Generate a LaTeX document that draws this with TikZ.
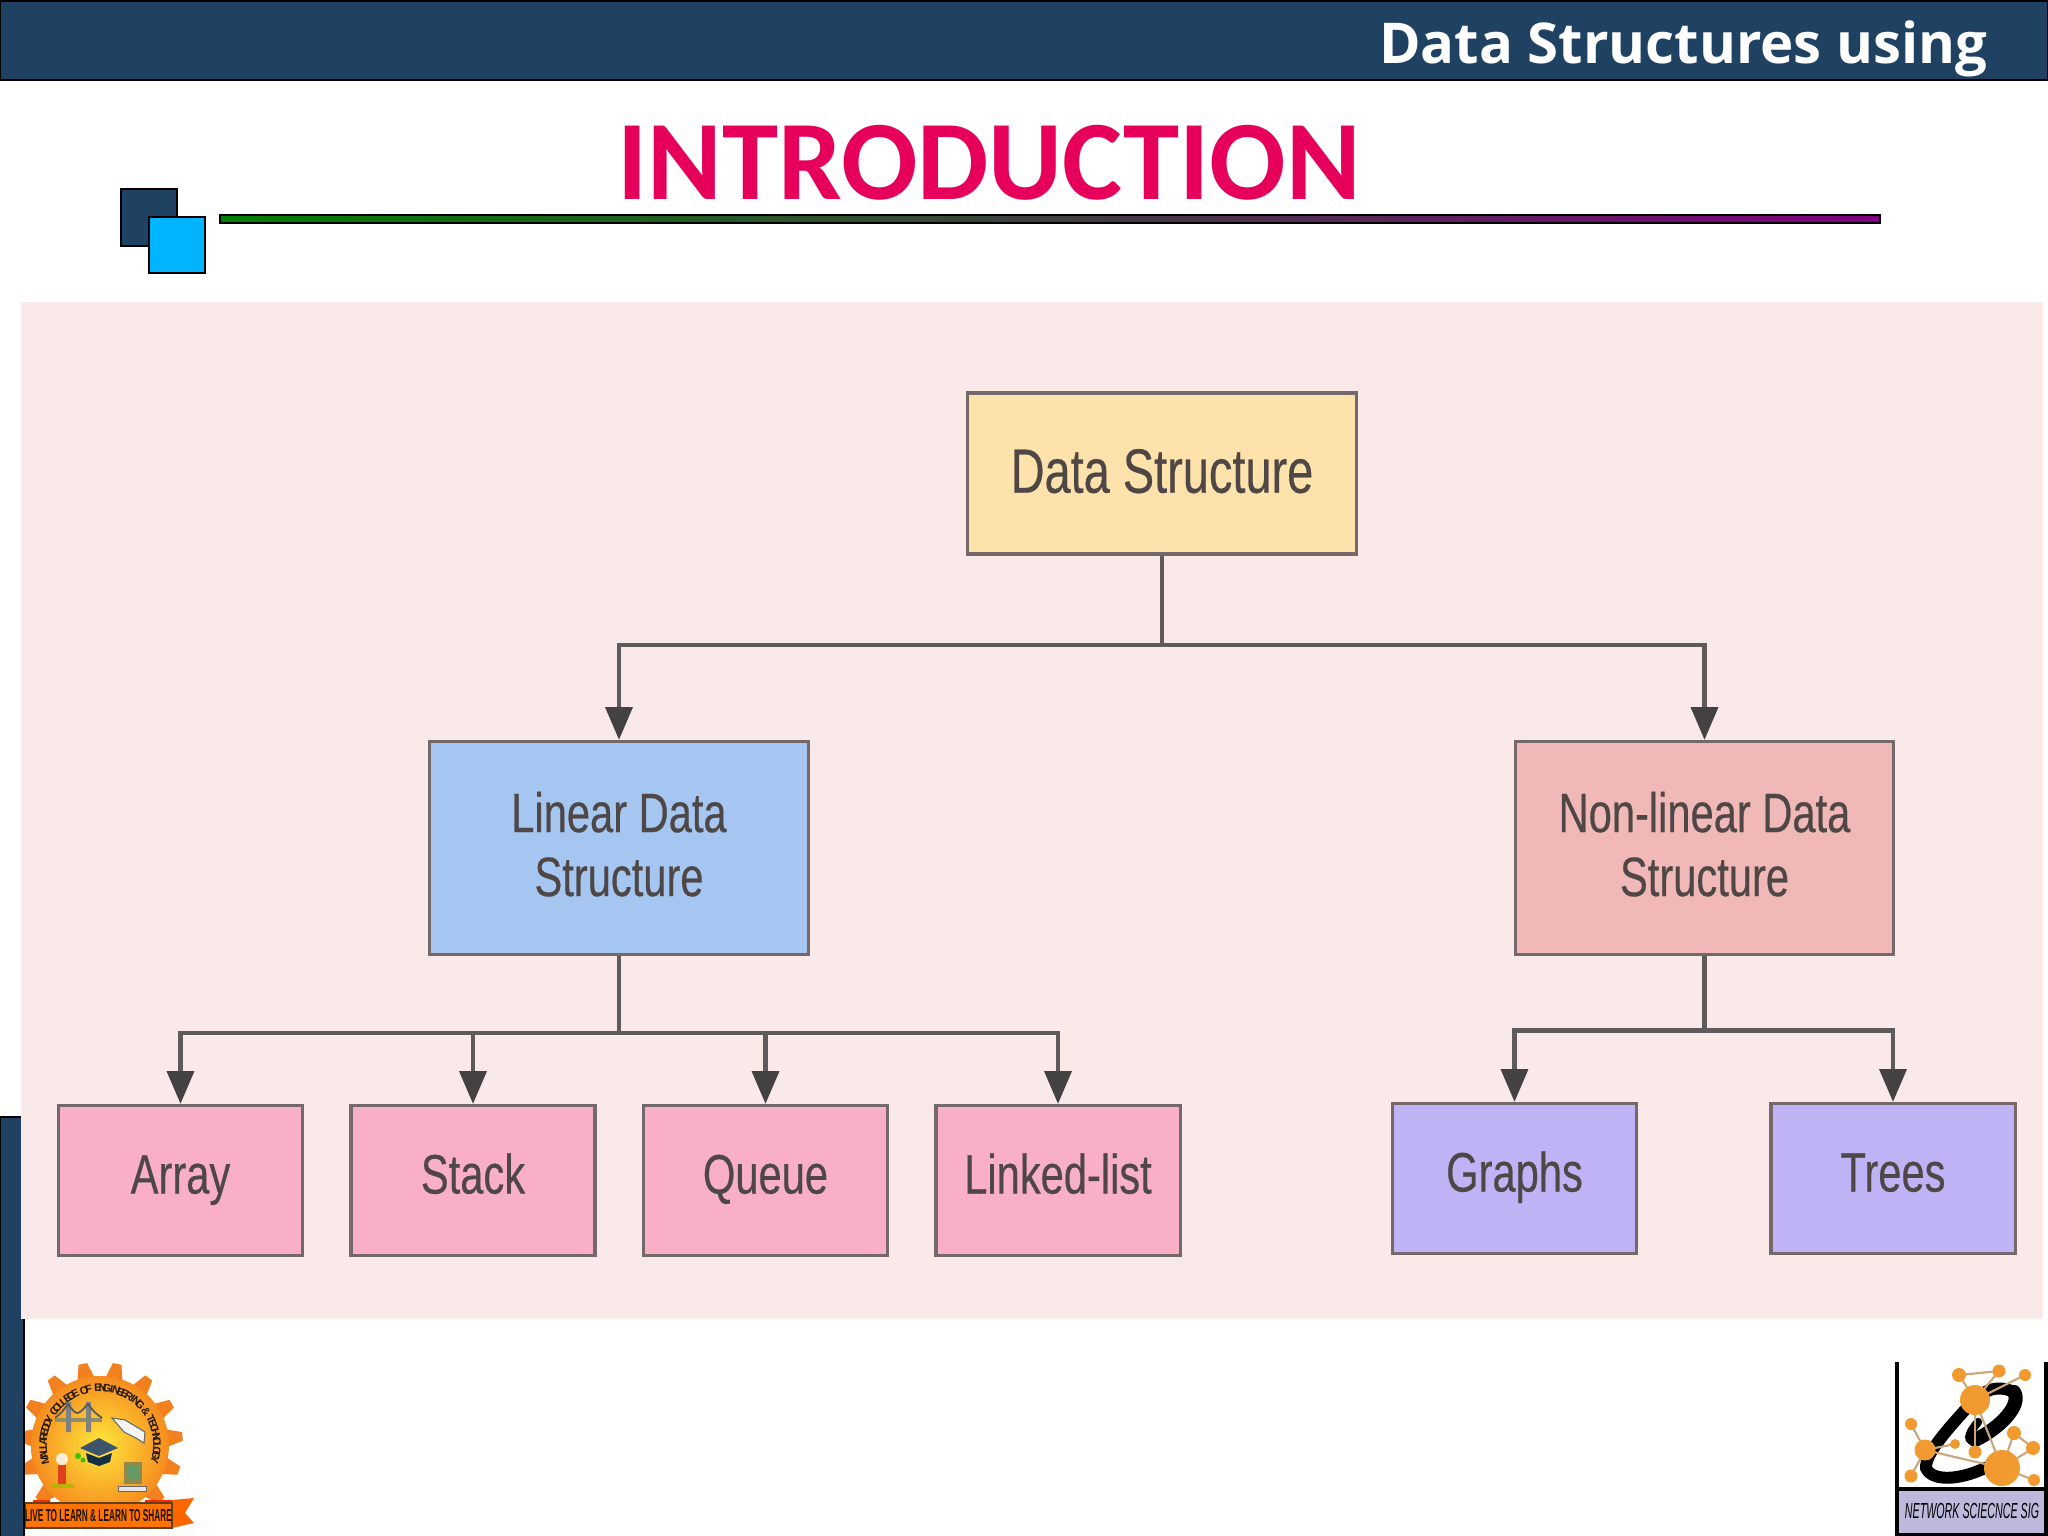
\documentclass[tikz,border=0pt]{standalone}
\usepackage{fontspec}
\usetikzlibrary{arrows.meta,calc}
\setmainfont{Liberation Sans}
\newfontfamily\headfont{Open Sans}
\newfontfamily\titlefont{Carlito}
\newfontfamily\boxfont[FakeStretch=0.75,FakeBold=0.35]{Liberation Sans}
\newfontfamily\bannerfont[FakeStretch=0.48]{Liberation Sans}
\newfontfamily\sigfont[FakeStretch=0.49]{Liberation Sans}
\definecolor{navy}{HTML}{1F4263}
\definecolor{sky}{HTML}{00B4FF}
\definecolor{panelpink}{HTML}{F9E9E9}
\definecolor{dsfill}{HTML}{FDE2AB}
\definecolor{linfill}{HTML}{A6C6F2}
\definecolor{nlfill}{HTML}{F0B8B6}
\definecolor{leafpink}{HTML}{F9B0C6}
\definecolor{leafviolet}{HTML}{BFB3F5}
\definecolor{edgegray}{HTML}{75686A}
\definecolor{linkgray}{HTML}{5F5A5C}
\definecolor{tipgray}{HTML}{444240}
\definecolor{boxtext}{HTML}{4E4746}
\definecolor{titlered}{HTML}{E6005C}
\definecolor{linegreen}{HTML}{008000}
\definecolor{linepurple}{HTML}{800080}
\definecolor{netorange}{HTML}{F09A30}
\definecolor{netlink}{HTML}{C9A77C}
\definecolor{siglav}{HTML}{BDB9DC}
\definecolor{sunteeth}{HTML}{F2801E}
\definecolor{sunin}{HTML}{FFE83C}
\definecolor{sunout}{HTML}{F68C1F}
\tikzset{
  x=0.01cm,y=-0.01cm,
  box/.style={draw=edgegray,line width=.9pt,inner sep=0pt,align=center,text=boxtext,font=\boxfont\fontsize{15.8}{18.2}\selectfont},
  topbox/.style={box,fill=dsfill,minimum width=3.89cm,minimum height=1.61cm,text depth=1.5pt,font=\boxfont\fontsize{17.8}{20}\selectfont},
  midbox/.style={box,minimum width=3.78cm,minimum height=2.13cm,text depth=2.3pt},
  leafbox/.style={box,minimum width=2.44cm,minimum height=1.5cm,text height=10.4pt,text depth=3pt},
  link/.style={draw=linkgray,line width=1.2pt},
  arrowlink/.style={link,-{Triangle[length=9.3pt,width=7.6pt,color=tipgray]}},
  netnode/.style={fill=netorange},
  netedge/.style={draw=netlink,line width=.6pt},
  outlined/.style={draw=black,line width=.7pt},
  arcletter/.style={inner sep=0pt,text=black!80!brown,font=\bfseries\fontsize{3.1}{4}\selectfont},
}
\begin{document}
\begin{tikzpicture}
\useasboundingbox (0,0) rectangle (2048,1536);
\fill[white] (0,0) rectangle (2048,1536);
% slide furniture
\draw[fill=navy,draw=black,line width=.7pt] (0,0.5) rectangle (2048,80);
\node[anchor=base east,inner sep=0pt,text=white,font=\headfont\bfseries\fontsize{16}{18}\selectfont] (head) at (1988,63) {Data Structures using};
\node[anchor=base,inner sep=0pt,text=titlered,font=\titlefont\bfseries\fontsize{32.2}{36}\selectfont] (title) at (989,199) {INTRODUCTION};
\draw[outlined,fill=navy] (121,189) rectangle (177,246);
\draw[outlined,fill=sky] (149,217) rectangle (205,273);
\draw[outlined,left color=linegreen,right color=linepurple] (220,215) rectangle (1880,223);
\fill[navy] (0,1117) rectangle (24,1536);
\draw[black,line width=.7pt] (24,1319) -- (24,1536);
\draw[black,line width=.5pt] (0.3,1117) -- (0.3,1536);
\draw[black,line width=.5pt] (0,1117) -- (21,1117);
\fill[panelpink] (21,302) rectangle (2043,1319);
% diagram
\node[topbox] (ds) at (1162,473.5) {Data Structure};
\node[midbox,fill=linfill] (lin) at (619,848) {Linear Data\\Structure};
\node[midbox,fill=nlfill] (nl) at (1704.5,848) {Non-linear Data\\Structure};
\node[leafbox,fill=leafpink] (array) at (180.5,1180.5) {Array};
\node[leafbox,fill=leafpink] (stack) at (473,1180.5) {Stack};
\node[leafbox,fill=leafpink] (queue) at (765.5,1180.5) {Queue};
\node[leafbox,fill=leafpink] (llist) at (1058,1180.5) {Linked-list};
\node[leafbox,fill=leafviolet] (graphs) at (1514.5,1178.5) {Graphs};
\node[leafbox,fill=leafviolet] (trees) at (1893,1178.5) {Trees};
\coordinate (busa) at (1162,645);
\coordinate (busb) at (619,1033);
\coordinate (busc) at (1704.5,1030.5);
\draw[link] (ds.south) -- (busa);
\draw[arrowlink] (busa) -| (lin.north);
\draw[arrowlink] (busa) -| (nl.north);
\draw[link] (lin.south) -- (busb);
\draw[arrowlink] (busb) -| (array.north);
\draw[arrowlink] (busb) -| (stack.north);
\draw[arrowlink] (busb) -| (queue.north);
\draw[arrowlink] (busb) -| (llist.north);
\draw[link] (nl.south) -- (busc);
\draw[arrowlink] (busc) -| (graphs.north);
\draw[arrowlink] (busc) -| (trees.north);
% college emblem
\coordinate (sun) at (100,1445);
\begin{scope}
\clip (25,1350) rectangle (200,1536);
\foreach \a in {0,24,...,336} {
  \fill[sunteeth] ($(sun)+(\a+90-8:66)$) -- ($(sun)+(\a+90-3:83)$) -- ($(sun)+(\a+90+3:83)$) -- ($(sun)+(\a+90+8:66)$) -- cycle;
}
\shade[inner color=sunin,outer color=sunout] (sun) circle (69);
\foreach \ch [count=\i] in {M,A,L,L,A,R,E,D,D,Y,{},C,O,L,L,E,G,E,{},O,F,{},E,N,G,I,N,E,E,R,I,N,G,{},\&,{},T,E,C,H,N,O,L,O,G,Y} {
  \pgfmathsetmacro{\t}{165+(\i-1)*4.67}
  \pgfmathsetmacro{\r}{-\t-90}
  \node[arcletter,rotate=\r] (arc\i) at ($(sun)+(\t:57)$) {\ch};
}
% bridge
\fill[gray!75!olive] (55,1418) rectangle (102,1422);
\fill[gray] (66,1402) rectangle (71,1432) (86,1402) rectangle (91,1432);
\draw[gray!70!black,line width=.5pt] (55,1418) .. controls (62,1412) .. (68,1404) .. controls (77,1416) .. (88,1404) .. controls (94,1412) .. (102,1418);
% shuttle
\fill[white!92!gray,draw=black!60,line width=.3pt] (112,1418) -- (125,1420) -- (145,1432) -- (144,1443) -- (136,1438) -- (124,1432) -- cycle;
% mortarboard
\fill[navy!70!gray] (80,1448) -- (99,1438) -- (118,1448) -- (99,1456) -- cycle;
\fill[navy!70!black] (86,1453) -- (99,1458) -- (112,1453) -- (110,1462) -- (99,1466) -- (88,1462) -- cycle;
% figure at telescope
\fill[olive!60!yellow] (52,1484) rectangle (74,1488);
\fill[red!50!brown] (58,1465) rectangle (66,1484);
\fill[white!85!orange] (62,1459) circle (6);
\fill[green!50!olive] (78,1456) circle (3) (83,1460) circle (2.5);
% computer
\fill[gray!50!olive] (124,1462) rectangle (142,1484);
\fill[green!20!gray] (127,1465) rectangle (139,1480);
\fill[white!80!gray,draw=black!60,line width=.2pt] (118,1486) rectangle (146,1491);
% ribbon
\fill[red!70!orange] (33,1500) rectangle (50,1506) (145,1500) rectangle (172,1506);
\fill[orange!80!red] (172,1500) -- (194,1498) -- (185,1513) -- (194,1523) -- (172,1528) -- cycle;
\draw[fill=orange!90!red,draw=black!50!brown,line width=.3pt] (25,1503) rectangle (172,1528);
\node[inner sep=0pt,text=black!85!brown,font=\bannerfont\bfseries\fontsize{4.9}{6}\selectfont] (banner) at (98.5,1515.5) {LIVE TO LEARN \& LEARN TO SHARE};
\end{scope}
% network science emblem
\fill[siglav] (1897,1491) rectangle (2046,1533);
\draw[black,line width=.9pt] (1897,1362) -- (1897,1535) -- (2046,1535) -- (2046,1362);
\draw[black,line width=1.1pt] (1897,1489) -- (2046,1489);
\draw[black,line cap=round,line width=4pt] (2014,1392) .. controls (2022,1405) and (2000,1428) .. (1975,1440);
\draw[black,line cap=round,line width=3.4pt] (2014,1392) .. controls (1992,1382) and (1978,1395) .. (1965,1410) .. controls (1945,1432) and (1925,1455) .. (1926,1468) .. controls (1932,1482) and (1960,1480) .. (1985,1468);
\draw[black,line cap=round,line width=2.4pt] (1975,1440) .. controls (1968,1442) and (1966,1436) .. (1978,1422);
\draw[netedge] (1959,1375) -- (1999,1371) -- (1975,1400) -- (1959,1375);
\draw[netedge] (2025,1375) -- (1975,1400);
\draw[netedge] (1975,1400) -- (2002,1468);
\draw[netedge] (1975,1400) -- (1975,1452);
\draw[netedge] (1911,1424) -- (1925,1450) -- (1955,1444);
\draw[netedge] (1911,1476) -- (1925,1450) -- (2002,1468);
\draw[netedge] (2014,1433) -- (2033,1448) -- (2002,1468) -- (2014,1433);
\draw[netedge] (2002,1468) -- (2034,1480);
\fill[netnode] (1959,1375) circle (7);
\fill[netnode] (1999,1371) circle (6.5);
\fill[netnode] (2025,1375) circle (6);
\fill[netnode] (1975,1400) circle (15);
\fill[netnode] (1911,1424) circle (6);
\fill[netnode] (1925,1450) circle (10.5);
\fill[netnode] (1955,1444) circle (5);
\fill[netnode] (1975,1452) circle (6.5);
\fill[netnode] (2014,1433) circle (7);
\fill[netnode] (2033,1448) circle (7);
\fill[netnode] (2002,1468) circle (18);
\fill[netnode] (1911,1476) circle (6.5);
\fill[netnode] (2034,1480) circle (6);
\node[inner sep=0pt,text=black,font=\sigfont\itshape\fontsize{6.2}{7}\selectfont] (sig) at (1972,1511) {NETWORK SCIECNCE SIG};
\end{tikzpicture}
\end{document}
